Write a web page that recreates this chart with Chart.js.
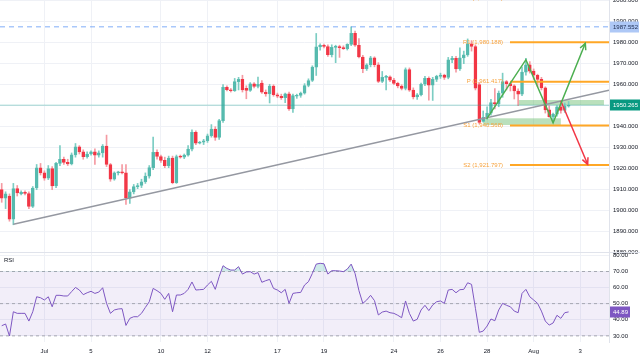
<!DOCTYPE html>
<html><head><meta charset="utf-8">
<script src="https://cdn.jsdelivr.net/npm/chart.js@4.4.0/dist/chart.umd.min.js"></script>
<style>
html,body{margin:0;padding:0;background:#fff;}
#wrap{position:relative;width:640px;height:358px;overflow:hidden;background:#fff}
canvas{position:absolute;left:0;}
</style></head><body>
<div id="wrap">
<canvas id="main" width="640" height="260" style="top:0px"></canvas>
<canvas id="rsi" width="640" height="109" style="top:249px"></canvas>
</div>
<script>
// ---------- data ----------
const dayTickIdx = [11, 23, 41, 53, 71, 83, 101, 113, 125, 137, 149];
const dayTickLabels = ['Jul', '5', '10', '12', '17', '19', '24', '26', '28', 'Aug', '3'];
const priceTicks = [1880, 1890, 1900, 1910, 1920, 1930, 1940, 1950, 1960, 1970, 1980, 1990, 2000];
const rsiTicks = [30, 40, 50, 60, 70, 80];

const candleOpen = [
1910,1906,1907,1896,1910.5,1908,1908.8,1908.2,1902,1910.8,
1920.4,1918,1915.5,1920,1911.8,1922.5,1924.5,1923,1922.3,1926.6,
1930.4,1928,1925.7,1927,1928,1926.5,1927.5,1930.8,1922,1915,
1918,1918.4,1918,1906,1909,1911.5,1912,1913.8,1916.5,1920.5,
1927.8,1925.8,1924,1921.4,1925,1913.4,1925.8,1925.5,1926.5,1929.3,
1937.3,1932.2,1932.6,1933.3,1935.7,1938.9,1934.9,1942.9,1958.8,1957.6,
1957.1,1961.5,1962.6,1958.3,1957.3,1960.4,1959.2,1960.8,1956.4,1955.6,
1959.4,1955.2,1954.5,1953.8,1955.6,1948.5,1954.5,1954.9,1956,1959.6,
1962,1968.4,1978,1978.8,1978.2,1974.3,1977.8,1978.2,1977.6,1977.2,
1979.2,1984.4,1978.8,1973.2,1967.6,1969.5,1972.8,1969.5,1961.6,1963.5,
1963.8,1962.2,1960.6,1959.4,1958.2,1967.2,1957.4,1954.2,1955.2,1960.2,
1963,1959.8,1962.5,1964,1964.6,1963.5,1971.8,1972.5,1967.5,1972.8,
1974.2,1979.5,1978.2,1960,1942.5,1944.5,1946.5,1951.5,1950.8,1956,
1961.5,1960.5,1959.5,1957,1955.5,1966,1969.5,1966.5,1964.5,1962.5,
1958.5,1948,1944.8,1946,1949.5,1947.8,1949.8];
const candleHigh = [
1913,1909,1908,1913,1912,1909.5,1909.5,1909,1911.5,1922,
1922.5,1919,1921.5,1921,1923,1931,1925.5,1924.5,1927.5,1932,
1931,1929,1928,1928.5,1929.5,1928.5,1931.5,1936,1922.5,1918.5,
1918.8,1922,1922,1910,1912.5,1913,1915,1918,1921.5,1935,
1929,1926.5,1925.5,1926,1926,1926.5,1926.5,1927,1931,1938.5,
1938,1933,1934,1936.5,1941,1940,1943.5,1960,1959.5,1958.2,
1963,1963.5,1964.5,1959.5,1961,1961,1963.6,1962,1957.5,1960.2,
1960,1956,1955.5,1956,1956.5,1955.5,1955.5,1956.5,1960.5,1962.8,
1969,1984.4,1979.5,1979.3,1979,1979,1978.8,1978.8,1978.5,1979.5,
1987.55,1985.5,1982,1974,1970,1973.5,1973.3,1970.5,1966.3,1964.5,
1964.2,1963,1961.2,1960,1968,1968,1958.5,1955.8,1960.8,1964,
1963.8,1963.5,1964.5,1965.5,1965,1973,1973.5,1973.5,1977.5,1976,
1981.8,1981,1979,1961,1947.5,1949.5,1953,1958.1,1957,1965.5,
1962,1961,1960,1958,1968.5,1972.6,1971,1967.5,1965,1963.5,
1959,1950,1946.5,1950,1952.5,1951.3,1952];
const candleLow = [
1904,1901,1895,1893.3,1907,1907.5,1907.5,1901,1901.5,1910,
1917,1914.5,1914.8,1910,1911,1921.5,1922,1921.5,1921.8,1925.5,
1927,1924.5,1925,1926.5,1922,1925.5,1925.5,1921,1914,1914.5,
1917,1917.5,1903,1903.5,1908,1910.5,1911,1913,1915.5,1919.5,
1924.5,1923,1920.5,1920.5,1912.8,1913,1925,1924.8,1926,1928.5,
1931.5,1931.8,1931.5,1932.5,1935,1933.5,1934,1942,1957,1956.5,
1956.8,1957.5,1956.5,1953.3,1956.8,1958.5,1958.5,1955.8,1954.5,1951.3,
1954.5,1953.8,1953,1951.5,1947.8,1946.8,1953.5,1954,1955.5,1959,
1961.5,1964.4,1976.5,1977.5,1973.5,1973.2,1970.5,1973,1976.8,1976.5,
1978.6,1978.2,1972.8,1965.7,1966.8,1968.5,1968.5,1961,1961,1957.5,
1961.5,1960,1958.5,1957.5,1957.5,1956.8,1953.2,1953,1954.6,1959.5,
1952.6,1952.5,1961.5,1963,1962.5,1962.8,1970.5,1966,1966.8,1970,
1973.5,1976,1957.5,1941.3,1942.2,1943.5,1945.5,1948.5,1949.5,1954,
1957.5,1957,1953.2,1950,1954.8,1964.5,1965.5,1962.5,1959,1957.5,
1946.5,1944.5,1942.1,1945,1946.5,1946.8,1949.3];
const candleClose = [
1906,1908,1896,1910.5,1908.5,1908.8,1908.2,1902,1910.8,1920.4,
1918,1915.5,1920,1911.8,1922.5,1924.5,1923,1922.3,1926.6,1930.4,
1928,1925.7,1927,1928,1926.5,1927.5,1930.8,1922,1915,1918,
1918.4,1918,1906,1909,1911.5,1912,1913.8,1916.5,1920.5,1927.8,
1925.8,1924,1921.4,1925,1913.4,1925.8,1925.5,1926.5,1929.3,1937.3,
1932.2,1932.6,1933.3,1935.7,1938.9,1934.9,1942.9,1958.8,1957.6,1957.1,
1961.5,1962.6,1957.5,1957.3,1960.4,1959.2,1960.2,1956.4,1955.6,1959.4,
1955.2,1954.5,1953.8,1955.6,1948.5,1954.8,1954.9,1956,1959.6,1962,
1968.4,1978,1978.8,1978.2,1974.3,1977.8,1978.2,1977.6,1977.2,1979.2,
1984.4,1978.8,1973.2,1967.6,1969.5,1972.8,1969.5,1961.6,1963.5,1963.8,
1962.2,1960.6,1959.4,1958.2,1967.2,1957.4,1954.2,1955.2,1960.2,1963,
1959.8,1962.5,1964,1964.6,1963.5,1971.8,1972.5,1967.5,1972.8,1974.2,
1979.5,1978.2,1958.3,1942,1944.5,1946.5,1951.5,1950.8,1956,1961.5,
1960.5,1959.5,1957,1955.5,1966,1969.5,1966.5,1964.5,1962.5,1958.5,
1948,1944.8,1946,1949.5,1947.8,1949.8,1950.265];

const rsiValues = [
36.3,37.4,29.9,45.0,44.0,44.0,44.0,39.2,45.0,54.3,
53.7,52.3,54.3,48.1,55.2,55.2,54.8,54.8,57.5,60.1,
58.5,55.6,56.8,57.7,56.4,57.2,59.9,50.2,44.0,46.1,
46.7,46.9,36.5,40.9,41.9,41.9,44.0,47.7,51.2,59.5,
58.1,56.4,52.7,56.4,45.0,55.4,55.4,56.4,58.9,63.5,
58.5,58.7,58.9,61.6,63.9,58.9,66.8,73.6,71.9,70.9,
70.9,73.0,68.4,69.7,69.9,68.4,69.3,63.3,64.3,65.1,
59.5,58.5,56.8,58.9,50.2,56.4,56.8,57.0,61.6,63.7,
68.8,74.6,75.1,74.8,68.4,70.5,70.5,70.3,69.9,71.5,
74.6,68.8,58.1,50.2,52.3,55.2,51.9,43.0,44.8,45.4,
44.4,44.0,42.8,41.3,51.7,44.0,39.2,40.3,46.1,49.0,
45.7,49.2,51.2,51.7,50.2,58.5,58.9,56.8,58.7,58.9,
63.0,62.0,47.1,32.2,33.0,36.1,40.5,39.4,46.1,50.2,
49.0,48.1,45.4,44.4,56.4,58.9,54.3,52.3,50.2,45.4,
39.2,36.7,38.0,42.8,40.9,44.4,44.89];
const rsiLevels = [70, 50, 30];
const rsiName = 'RSI';

const swingHigh = 1987.552;
const lastPrice = 1950.265;
const pivotNames = ['R2', 'R1', 'P', 'S1', 'S2'];
const pivotValues = [2001.037, 1980.188, 1961.417, 1940.568, 1921.797];
const pivotStartIdx = 130.9;
const trendlinePts = [[3.0, 1893.5], [156.4, 1957.4]];
const bullPath = [[124.9, 1943.7], [135.0, 1971.9], [142.0, 1941.9], [150.3, 1979.7]];
const bearPath = [[144.0, 1952.2], [150.9, 1922.1]];
const zones = [[133.1, 155.1, 1950.3, 1952.7], [124.0, 144.0, 1940.8, 1944.0]];

// ---------- layout / style ----------
const X_MIN = -0.44, X_MAX = 156.4;
const PRICE_MIN = 1879.86, PRICE_MAX = 2000.33;
const RSI_MIN = 26.2, RSI_MAX = 81.5;
const FONT = '"Liberation Sans", Arial, sans-serif';
const TXT = '#131722';
const GRID = '#eff1f6';
const AXIS_W = 31;

const idx = candleOpen.map((_, i) => i);
const up = idx.map(i => candleClose[i] >= candleOpen[i]);
const bodyData = idx.map(i => ({x: i, y: [candleOpen[i], candleClose[i]]}));
const wickData = idx.map(i => ({x: i, y: [candleLow[i], candleHigh[i]]}));
const pts = arr => arr.map(p => ({x: p[0], y: p[1]}));
const hLine = (v, x0, x1) => [{x: x0, y: v}, {x: x1, y: v}];
const lineDs = (data, color, width, dash) => ({
  type: 'line', data, borderColor: color, borderWidth: width, borderDash: dash || [],
  pointRadius: 0, tension: 0, fill: false
});
const fmt3 = v => v.toLocaleString('en-US', {minimumFractionDigits: 3, maximumFractionDigits: 3});

function xScaleCfg(showLabels) {
  return {
    type: 'linear', min: X_MIN, max: X_MAX, bounds: 'data', offset: false,
    grid: {color: GRID, drawTicks: false, offset: false}, border: {display: false},
    ticks: {display: showLabels, autoSkip: false, maxRotation: 0, padding: 6, color: TXT,
      font: {family: FONT, size: 6},
      callback: v => { const k = dayTickIdx.indexOf(v); return k >= 0 ? dayTickLabels[k] : ''; }},
    afterBuildTicks: s => { s.ticks = dayTickIdx.map(v => ({value: v})); },
    afterFit: s => { s.height = showLabels ? 16 : 0; s.paddingLeft = 0; s.paddingRight = 0; }
  };
}
function yScaleCfg(min, max, ticks, digits) {
  return {
    type: 'linear', position: 'right', min, max, bounds: 'data',
    grid: {color: GRID, drawTicks: false}, border: {display: true, color: '#e0e3eb'},
    ticks: {padding: 4, color: TXT, font: {family: FONT, size: 6}, callback: v => Number(v).toFixed(digits)},
    afterBuildTicks: s => { s.ticks = ticks.map(v => ({value: v})); },
    afterFit: s => { s.width = AXIS_W; s.paddingTop = 0; s.paddingBottom = 0; }
  };
}

function arrowHead(ctx, x1, y1, x2, y2, color) {
  const a = Math.atan2(y2 - y1, x2 - x1), L = 7, w = 0.45;
  ctx.strokeStyle = color; ctx.lineWidth = 1.5;
  ctx.beginPath();
  ctx.moveTo(x2 - L * Math.cos(a - w), y2 - L * Math.sin(a - w));
  ctx.lineTo(x2, y2);
  ctx.lineTo(x2 - L * Math.cos(a + w), y2 - L * Math.sin(a + w));
  ctx.stroke();
}
function axisBox(ctx, left, yPix, w, text, bg, fg) {
  ctx.fillStyle = bg; ctx.fillRect(left, Math.round(yPix) - 5.5, w, 11);
  ctx.fillStyle = fg; ctx.font = '6px ' + FONT; ctx.textAlign = 'left'; ctx.textBaseline = 'middle';
  ctx.fillText(text, left + 3, yPix + 0.5);
}

const mainDecor = {
  id: 'mainDecor',
  beforeDatasetsDraw(chart) {
    const {ctx, chartArea: a, scales: {x, y}} = chart;
    ctx.save();
    ctx.beginPath(); ctx.rect(a.left, a.top, a.right - a.left, a.bottom - a.top); ctx.clip();
    ctx.fillStyle = 'rgba(102,187,106,0.45)';
    zones.forEach(z => {
      const x0 = x.getPixelForValue(z[0]), x1 = x.getPixelForValue(z[1]);
      const y0 = y.getPixelForValue(z[3]), y1 = y.getPixelForValue(z[2]);
      ctx.fillRect(x0, y0, x1 - x0, y1 - y0);
    });
    ctx.restore();
  },
  afterDatasetsDraw(chart) {
    const {ctx, scales: {x, y}} = chart;
    ctx.save();
    const g = bullPath.length;
    arrowHead(ctx, x.getPixelForValue(bullPath[g - 2][0]), y.getPixelForValue(bullPath[g - 2][1]),
      x.getPixelForValue(bullPath[g - 1][0]), y.getPixelForValue(bullPath[g - 1][1]), '#4caf50');
    arrowHead(ctx, x.getPixelForValue(bearPath[0][0]), y.getPixelForValue(bearPath[0][1]),
      x.getPixelForValue(bearPath[1][0]), y.getPixelForValue(bearPath[1][1]), '#f23645');
    ctx.font = '6px ' + FONT; ctx.textAlign = 'right'; ctx.textBaseline = 'middle';
    ctx.fillStyle = '#f7a23c';
    const lx = x.getPixelForValue(pivotStartIdx) - 7;
    pivotNames.forEach((n, k) => {
      ctx.fillText(n + ' (' + fmt3(pivotValues[k]) + ')', lx, y.getPixelForValue(pivotValues[k]));
    });
    ctx.restore();
  },
  afterDraw(chart) {
    const {ctx, chartArea: a, scales: {y}} = chart;
    ctx.save();
    axisBox(ctx, a.right + 1, y.getPixelForValue(swingHigh), 29, swingHigh.toFixed(3), '#aec8f6', '#1c2b4f');
    axisBox(ctx, a.right + 1, y.getPixelForValue(lastPrice), 30, lastPrice.toFixed(3), '#089981', '#ffffff');
    ctx.restore();
  }
};

new Chart(document.getElementById('main'), {
  type: 'bar',
  data: {
    datasets: [
      lineDs(pts(bullPath), '#4caf50', 1.5),
      lineDs(pts(bearPath), '#f23645', 1.5),
      lineDs(pts(trendlinePts), '#9598a1', 1.5),
      ...pivotValues.map(v => lineDs(hLine(v, pivotStartIdx, X_MAX), '#ffa726', 2)),
      lineDs(hLine(swingHigh, X_MIN, X_MAX), 'rgba(66,133,244,0.45)', 1.5, [5, 4]),
      lineDs(hLine(lastPrice, X_MIN, X_MAX), 'rgba(38,166,154,0.28)', 1.5),
      {type: 'bar', data: bodyData, grouped: false, barThickness: 3, minBarLength: 1, borderSkipped: false,
       borderWidth: 1,
       backgroundColor: idx.map(i => up[i] ? 'rgba(38,166,154,0.25)' : '#f23645'),
       borderColor: idx.map(i => up[i] ? '#5bbcb0' : '#f23645')},
      {type: 'bar', data: wickData, grouped: false, barThickness: 1, borderWidth: 0,
       backgroundColor: idx.map(i => up[i] ? '#7ccdc3' : '#f59aa2')}
    ]
  },
  options: {
    responsive: false, animation: false, events: [],
    layout: {padding: {top: 0, bottom: 7, left: 0, right: 0}},
    plugins: {legend: {display: false}, tooltip: {enabled: false}},
    scales: {x: xScaleCfg(false), y: yScaleCfg(PRICE_MIN, PRICE_MAX, priceTicks, 3)}
  },
  plugins: [mainDecor]
});

const rsiDecor = {
  id: 'rsiDecor',
  beforeDatasetsDraw(chart) {
    const {ctx, chartArea: a, scales: {y}} = chart;
    ctx.save();
    const y0 = y.getPixelForValue(rsiLevels[0]), y1 = y.getPixelForValue(rsiLevels[rsiLevels.length - 1]);
    ctx.fillStyle = 'rgba(126,87,194,0.1)';
    ctx.fillRect(a.left, y0, a.right - a.left, y1 - y0);
    ctx.restore();
  },
  afterDraw(chart) {
    const {ctx, chartArea: a, scales: {y}} = chart;
    ctx.save();
    ctx.strokeStyle = '#e0e3eb'; ctx.lineWidth = 1;
    ctx.beginPath(); ctx.moveTo(0, a.top - 0.5); ctx.lineTo(640, a.top - 0.5); ctx.stroke();
    ctx.fillStyle = TXT; ctx.font = '6px ' + FONT; ctx.textAlign = 'left'; ctx.textBaseline = 'middle';
    ctx.fillText(rsiName, 4, a.top + 7);
    const last = rsiValues[rsiValues.length - 1];
    axisBox(ctx, a.right + 1, y.getPixelForValue(last), 20, last.toFixed(2), '#7e57c2', '#ffffff');
    ctx.restore();
  }
};

new Chart(document.getElementById('rsi'), {
  type: 'line',
  data: {
    datasets: [
      {data: idx.map(i => ({x: i, y: rsiValues[i]})), borderColor: '#7e57c2', borderWidth: 1,
       pointRadius: 0, tension: 0,
       fill: {target: {value: 70}, above: 'rgba(38,166,154,0.22)', below: 'rgba(0,0,0,0)'}},
      ...rsiLevels.map(v => lineDs(hLine(v, X_MIN, X_MAX), '#9598a1', 0.8, [3, 3]))
    ]
  },
  options: {
    responsive: false, animation: false, events: [],
    layout: {padding: {top: 4, bottom: 0, left: 0, right: 0}},
    plugins: {legend: {display: false}, tooltip: {enabled: false}},
    scales: {x: xScaleCfg(true), y: yScaleCfg(RSI_MIN, RSI_MAX, rsiTicks, 2)}
  },
  plugins: [rsiDecor]
});
</script>
</body></html>
